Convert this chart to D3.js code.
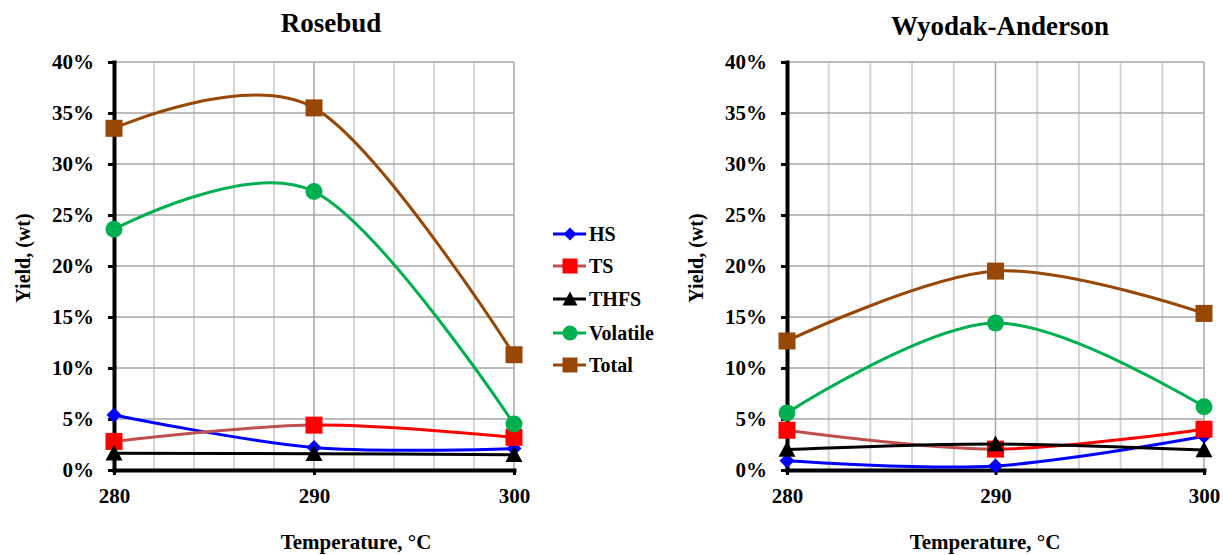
<!DOCTYPE html>
<html>
<head>
<meta charset="utf-8">
<script src="https://cdn.jsdelivr.net/npm/d3@7"></script>
<style>
  html, body { margin: 0; padding: 0; background: #fff; }
  svg { display: block; font-family: "Liberation Serif", "Times New Roman", serif; font-weight: bold; }
</style>
</head>
<body>
<svg id="chart" width="1223" height="555"></svg>
<script>
// Temperatures (°C) on the x axis
const temperatures = [280, 290, 300];
const seriesNames = ["HS", "TS", "THFS", "Volatile", "Total"];

// Rosebud yields (wt %)
const rosebudHS       = [5.4, 2.2, 2.1];
const rosebudTS       = [2.8, 4.4, 3.2];
const rosebudTHFS     = [1.65, 1.6, 1.5];
const rosebudVolatile = [23.6, 27.3, 4.5];
const rosebudTotal    = [33.5, 35.5, 11.3];

// Wyodak-Anderson yields (wt %)
const wyodakHS       = [0.9, 0.4, 3.3];
const wyodakTS       = [3.9, 2.05, 4.0];
const wyodakTHFS     = [2.0, 2.55, 1.95];
const wyodakVolatile = [5.6, 14.4, 6.2];
const wyodakTotal    = [12.65, 19.5, 15.35];

const yTicks = [0, 5, 10, 15, 20, 25, 30, 35, 40];
const xTicks = [280, 290, 300];
const xMinorTicks = [282, 284, 286, 288, 292, 294, 296, 298];

const colors = {
  HS: "#0000FF",
  TS: "#FF0000",
  THFS: "#000000",
  Volatile: "#00B050",
  Total: "#974706"
};
const tsLeadColor = "#C0504D";

// Marker outlines, centred on the data point
function markerPath(name, s) {
  const h = s / 2;
  switch (name) {
    case "HS": return `M0,${-h}L${h},0L0,${h}L${-h},0Z`;
    case "TS":
    case "Total": return `M${-h},${-h}H${h}V${h}H${-h}Z`;
    case "THFS": return `M0,${-h}L${h},${h * 0.85}L${-h},${h * 0.85}Z`;
    case "Volatile": return d3.symbol(d3.symbolCircle, Math.PI * h * h)();
  }
}
const markerSize = { HS: 15, TS: 17, THFS: 17, Volatile: 17, Total: 17 };

const svg = d3.select("#chart");
svg.append("rect").attr("width", 1223).attr("height", 555).attr("fill", "#fff");

function drawPanel(opts) {
  const { id, title, left, right, top, bottom, values, titleX, titleY, xTitleX, yTitleX } = opts;
  const x = d3.scaleLinear().domain([280, 300]).range([left, right]);
  const y = d3.scaleLinear().domain([0, 40]).range([bottom, top]);
  const g = svg.append("g");

  // Gridlines
  g.append("g").selectAll("line").data(xMinorTicks).join("line")
    .attr("x1", d => x(d)).attr("x2", d => x(d))
    .attr("y1", top).attr("y2", bottom)
    .attr("stroke", "#d4d4d4").attr("stroke-width", 2);
  g.append("g").selectAll("line").data(xTicks.slice(1)).join("line")
    .attr("x1", d => x(d)).attr("x2", d => x(d))
    .attr("y1", top).attr("y2", bottom)
    .attr("stroke", "#a6a6a6").attr("stroke-width", 1.5);
  g.append("g").selectAll("line").data(yTicks.slice(1)).join("line")
    .attr("x1", left).attr("x2", right)
    .attr("y1", d => y(d)).attr("y2", d => y(d))
    .attr("stroke", "#a6a6a6").attr("stroke-width", 1.5);

  // Axes
  const yAxis = g.append("g").attr("transform", `translate(${left},0)`)
    .call(d3.axisLeft(y).tickValues(yTicks).tickSize(6).tickSizeOuter(0).tickPadding(14)
      .tickFormat(d => d + "%"));
  const xAxis = g.append("g").attr("transform", `translate(0,${bottom})`)
    .call(d3.axisBottom(x).tickValues(xTicks).tickSize(5).tickSizeOuter(0).tickPadding(13)
      .tickFormat(d3.format("d")));
  [yAxis, xAxis].forEach(ax => {
    ax.select(".domain").attr("stroke", "#000").attr("stroke-width", 4).attr("stroke-linecap", "square");
    ax.selectAll(".tick line").attr("stroke", "#000").attr("stroke-width", 3);
    ax.selectAll(".tick text").attr("fill", "#000")
      .style("font-family", "'Liberation Serif', serif").style("font-weight", "bold").style("font-size", "21px");
  });

  // Titles
  g.append("text").attr("x", titleX).attr("y", titleY).attr("text-anchor", "middle")
    .style("font-size", "27px").text(title);
  g.append("text").attr("x", xTitleX).attr("y", 549).attr("text-anchor", "middle")
    .style("font-size", "21px").text("Temperature, °C");
  g.append("text").attr("transform", `translate(${yTitleX},258) rotate(-90)`).attr("text-anchor", "middle")
    .style("font-size", "20px").text("Yield, (wt)");

  // Clip regions for the two-tone TS line
  const defs = svg.append("defs");
  defs.append("clipPath").attr("id", id + "-lead").append("rect")
    .attr("x", 0).attr("y", 0).attr("width", x(290)).attr("height", 555);
  defs.append("clipPath").attr("id", id + "-tail").append("rect")
    .attr("x", x(290)).attr("y", 0).attr("width", 1223 - x(290)).attr("height", 555);

  const line = d3.line()
    .x((d, i) => x(temperatures[i]))
    .y(d => y(d))
    .curve(d3.curveCardinal.tension(0));

  seriesNames.forEach(name => {
    const vals = values[name];
    const sg = g.append("g");
    if (name === "TS") {
      sg.append("path").attr("d", line(vals)).attr("fill", "none")
        .attr("stroke", tsLeadColor).attr("stroke-width", 3)
        .attr("clip-path", `url(#${id}-lead)`);
      sg.append("path").attr("d", line(vals)).attr("fill", "none")
        .attr("stroke", colors.TS).attr("stroke-width", 3)
        .attr("clip-path", `url(#${id}-tail)`);
    } else {
      sg.append("path").attr("d", line(vals)).attr("fill", "none")
        .attr("stroke", colors[name]).attr("stroke-width", 3);
    }
    sg.selectAll("path.marker").data(vals).join("path").attr("class", "marker")
      .attr("transform", (d, i) => `translate(${x(temperatures[i])},${y(d)})`)
      .attr("d", markerPath(name, markerSize[name]))
      .attr("fill", colors[name]);
  });
}

drawPanel({
  id: "rosebud", title: "Rosebud", left: 114, right: 514, top: 62, bottom: 470,
  titleX: 331, titleY: 32, xTitleX: 356, yTitleX: 30,
  values: { HS: rosebudHS, TS: rosebudTS, THFS: rosebudTHFS, Volatile: rosebudVolatile, Total: rosebudTotal }
});
drawPanel({
  id: "wyodak", title: "Wyodak-Anderson", left: 787, right: 1204, top: 62, bottom: 470,
  titleX: 1000, titleY: 35, xTitleX: 985, yTitleX: 703,
  values: { HS: wyodakHS, TS: wyodakTS, THFS: wyodakTHFS, Volatile: wyodakVolatile, Total: wyodakTotal }
});

// Legend
const legend = svg.append("g");
const legendRows = [234, 266, 299, 333, 365];
seriesNames.forEach((name, i) => {
  const row = legend.append("g").attr("transform", `translate(0,${legendRows[i]})`);
  row.append("line").attr("x1", 553).attr("x2", 586).attr("y1", 0).attr("y2", 0)
    .attr("stroke", name === "TS" ? tsLeadColor : colors[name]).attr("stroke-width", 3);
  row.append("path").attr("transform", "translate(570,0)")
    .attr("d", markerPath(name, markerSize[name] - 2)).attr("fill", colors[name]);
  row.append("text").attr("x", 589).attr("y", 7).style("font-size", "20px").text(name);
});
</script>
</body>
</html>
